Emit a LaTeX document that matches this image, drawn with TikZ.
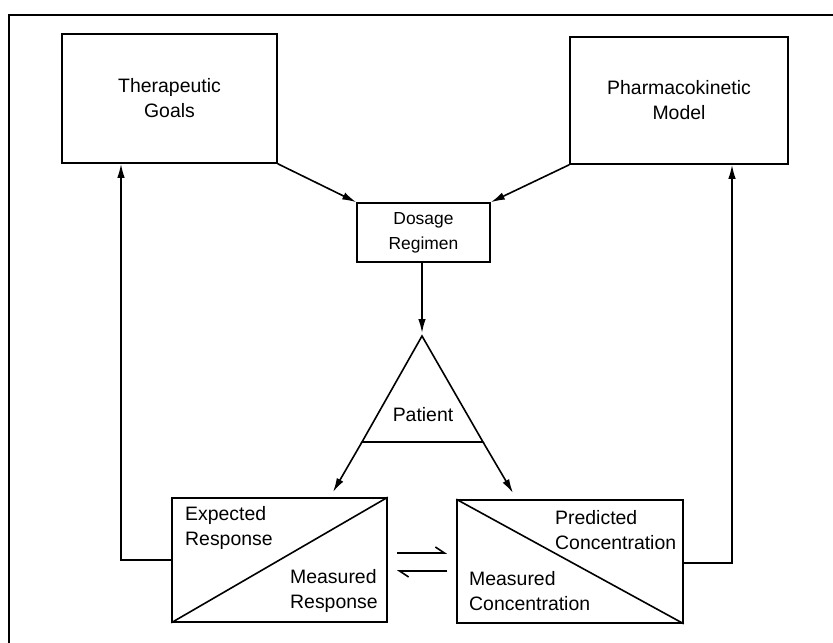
\documentclass[tikz,border=0pt]{standalone}
\usepackage{fontspec}
\setmainfont{Liberation Sans}
\usetikzlibrary{arrows.meta,calc}
\begin{document}
\begin{tikzpicture}[x=1bp,y=-1bp,
  every node/.style={font=\fontsize{19.5}{25}\selectfont, inner sep=0pt},
  ln/.style={line width=1.6bp},
  box/.style={draw, ln, align=center},
  lbl/.style={align=left, anchor=west},
  arr/.style={ln, -{Latex[length=14bp,width=7.5bp]}},
  harp/.style={ln, -{Straight Barb[left,length=9bp,width=12bp]}}
]
\useasboundingbox (0,0) rectangle (833,643);
% frame
\coordinate (fbl) at (9,643);
\coordinate (ftl) at (9,15);
\coordinate (ftr) at (833,15);
\draw[line width=2bp] (fbl) -- (ftl) -- (ftr);

% top boxes
\node[box, minimum width=215bp, minimum height=129bp] (tg) at (169.5,98.5) {Therapeutic\\Goals};
\node[box, minimum width=218bp, minimum height=127bp] (pk) at (679,100.5) {Pharmacokinetic\\Model};
\node[box, minimum width=133bp, minimum height=59bp, font=\fontsize{17.5}{25}\selectfont] (dr) at (423.5,232.5) {Dosage\\Regimen};

\draw[arr] (tg.south east) -- (dr.north west);
\draw[arr] (pk.south west) -- (dr.north east);

% patient triangle
\coordinate (apex) at (422,336);
\coordinate (bl) at (362,442);
\coordinate (br) at (483,442);
\draw[ln, line join=miter] (apex) -- (bl) -- (br) -- cycle;
\node (pt) at (423,415) {Patient};
\draw[arr, shorten >=3bp] (dr.south -| apex) -- (apex);

% bottom boxes
\node[draw, ln, minimum width=215bp, minimum height=124bp] (er) at (279.5,560) {};
\node[draw, ln, minimum width=226bp, minimum height=123bp] (pc) at (570,561.5) {};
\draw[ln] (er.south west) -- (er.north east);
\draw[ln] (pc.north west) -- (pc.south east);

\coordinate (tl) at (333,492);
\coordinate (tr) at (513,493);
\draw[arr] (bl) -- (tl);
\draw[arr] (br) -- (tr);

\node[lbl] (ertxt) at (185,528) {Expected\\Response};
\node[lbl] (mrtxt) at (290,591) {Measured\\Response};
\node[lbl] (mctxt) at (469,591) {Measured\\Concentration};
\node[lbl] (pctxt) at (555,530) {Predicted\\Concentration};

% equilibrium harpoons
\coordinate (h1a) at (397,553);
\coordinate (h1b) at (447,553);
\coordinate (h2a) at (447,571);
\coordinate (h2b) at (397,571);
\draw[harp] (h1a) -- (h1b);
\draw[harp] (h2a) -- (h2b);

% feedback loops
\coordinate (lfb) at (121,560);
\coordinate (rfb) at (732,563);
\draw[arr] (er.west |- lfb) -- (lfb) -- (lfb |- tg.south);
\draw[arr] (pc.east |- rfb) -- (rfb) -- (rfb |- pk.south);
\end{tikzpicture}
\end{document}
